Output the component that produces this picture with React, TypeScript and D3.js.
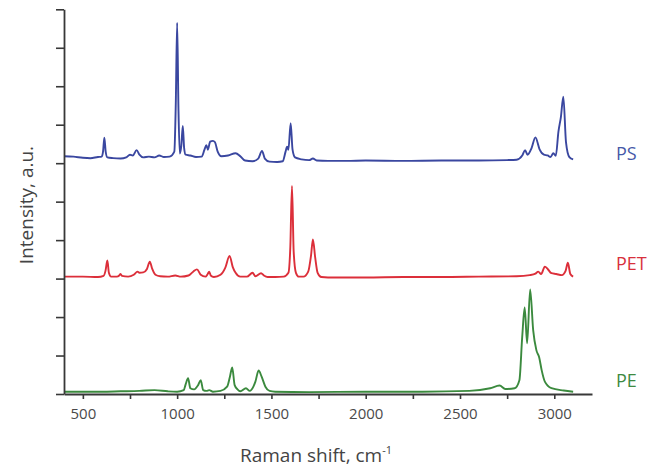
import * as d3 from 'd3';
import { useEffect, useRef } from 'react';

// Raman shift (cm-1), intensity above the spectrum's own baseline
const psSpectrum: [number, number][] = [
  [400, 0.18], [450, 0.17], [500, 0.14], [540, 0.13], [580, 0.16], [600, 0.17],
  [607, 0.3], [614, 0.66], [621, 0.3], [630, 0.15], [660, 0.13], [700, 0.12],
  [730, 0.15], [750, 0.22], [765, 0.2], [785, 0.34], [800, 0.22], [820, 0.15],
  [850, 0.17], [880, 0.15], [905, 0.2], [930, 0.16], [960, 0.17], [985, 0.3],
  [993, 1.6], [1000, 3.65], [1007, 1.4], [1014, 0.25], [1022, 0.45], [1030, 0.97],
  [1037, 0.4], [1045, 0.22], [1070, 0.2], [1100, 0.16], [1130, 0.17], [1145, 0.35],
  [1155, 0.47], [1163, 0.35], [1175, 0.56], [1190, 0.58], [1200, 0.55], [1215, 0.3],
  [1235, 0.18], [1270, 0.2], [1310, 0.26], [1335, 0.18], [1360, 0.07], [1400, 0.05],
  [1430, 0.12], [1450, 0.32], [1465, 0.12], [1490, 0.04], [1530, 0.03], [1560, 0.05],
  [1575, 0.3], [1583, 0.43], [1590, 0.35], [1602, 1.04], [1612, 0.35], [1625, 0.15],
  [1660, 0.1], [1700, 0.08], [1720, 0.12], [1740, 0.07], [1800, 0.06], [1900, 0.06],
  [2000, 0.07], [2200, 0.06], [2400, 0.07], [2600, 0.07], [2750, 0.08], [2800, 0.09],
  [2830, 0.2], [2845, 0.34], [2858, 0.22], [2880, 0.4], [2900, 0.67], [2922, 0.36],
  [2945, 0.22], [2965, 0.2], [2980, 0.16], [2995, 0.26], [3008, 0.19], [3022, 0.82],
  [3035, 1.2], [3048, 1.73], [3062, 0.55], [3080, 0.16], [3100, 0.1],
];

const petSpectrum: [number, number][] = [
  [400, 0.05], [500, 0.05], [580, 0.04], [610, 0.07], [620, 0.2], [630, 0.47],
  [638, 0.15], [650, 0.05], [680, 0.05], [693, 0.08], [700, 0.12], [707, 0.07],
  [740, 0.05], [770, 0.1], [790, 0.18], [800, 0.15], [820, 0.16], [840, 0.25],
  [855, 0.44], [868, 0.25], [885, 0.1], [910, 0.06], [950, 0.05], [990, 0.08],
  [1020, 0.05], [1060, 0.08], [1085, 0.18], [1105, 0.24], [1125, 0.1], [1150, 0.05],
  [1162, 0.12], [1170, 0.18], [1178, 0.08], [1195, 0.04], [1230, 0.1], [1255, 0.28],
  [1278, 0.59], [1295, 0.3], [1310, 0.15], [1335, 0.05], [1370, 0.05], [1400, 0.15],
  [1415, 0.06], [1445, 0.14], [1460, 0.08], [1480, 0.04], [1520, 0.04], [1565, 0.05],
  [1590, 0.15], [1600, 0.8], [1609, 2.41], [1618, 0.7], [1630, 0.15], [1645, 0.05],
  [1670, 0.05], [1695, 0.18], [1710, 0.6], [1720, 1.02], [1732, 0.55], [1745, 0.15],
  [1765, 0.04], [1800, 0.03], [2000, 0.03], [2200, 0.04], [2400, 0.04], [2600, 0.05],
  [2800, 0.06], [2870, 0.09], [2900, 0.13], [2915, 0.18], [2930, 0.12], [2950, 0.31],
  [2965, 0.25], [2985, 0.14], [3010, 0.12], [3040, 0.09], [3060, 0.2], [3072, 0.41],
  [3085, 0.12], [3100, 0.05],
];

const peSpectrum: [number, number][] = [
  [400, 0.06], [500, 0.06], [600, 0.06], [700, 0.07], [800, 0.08], [880, 0.1],
  [950, 0.07], [1000, 0.06], [1035, 0.1], [1045, 0.25], [1058, 0.41], [1070, 0.15],
  [1090, 0.12], [1110, 0.22], [1125, 0.36], [1138, 0.1], [1155, 0.08], [1170, 0.1],
  [1190, 0.06], [1230, 0.08], [1265, 0.19], [1280, 0.45], [1292, 0.69], [1305, 0.23],
  [1320, 0.12], [1335, 0.07], [1365, 0.15], [1385, 0.08], [1405, 0.2], [1415, 0.32],
  [1432, 0.61], [1448, 0.45], [1468, 0.19], [1490, 0.08], [1520, 0.06], [1700, 0.05],
  [2000, 0.06], [2300, 0.06], [2550, 0.08], [2660, 0.15], [2710, 0.22], [2740, 0.13],
  [2790, 0.15], [2815, 0.36], [2830, 1.49], [2843, 2.25], [2856, 1.32], [2872, 2.72],
  [2888, 1.66], [2905, 1.14], [2920, 0.95], [2933, 0.62], [2950, 0.32], [2985, 0.15],
  [3050, 0.09], [3100, 0.06],
];

const seriesNames = ['PS', 'PET', 'PE'];
const seriesData = [psSpectrum, petSpectrum, peSpectrum];
const seriesOffsets = [6, 3, 0];
const labelLevels = [6.25, 3.4, 0.34];
const lineColors = ['#3a47a0', '#dc2f3a', '#3b8a3e'];
const labelColors = ['#4659a8', '#d8303c', '#3e8a42'];

const xTicks = [500, 750, 1000, 1250, 1500, 1750, 2000, 2250, 2500, 2750, 3000];
const yTicks = [0, 1, 2, 3, 4, 5, 6, 7, 8, 9, 10];

export default function App() {
  const svgRef = useRef<SVGSVGElement | null>(null);

  useEffect(() => {
    const width = 649;
    const height = 468;
    const font = '"Open Sans", sans-serif';

    const svg = d3.select(svgRef.current).attr('width', width).attr('height', height);
    svg.selectAll('*').remove();

    const x = d3.scaleLinear().domain([400, 3200]).range([64, 592]);
    const y = d3.scaleLinear().domain([0, 10]).range([394, 9.3]);

    const line = d3
      .line<[number, number]>()
      .x((d) => x(d[0]))
      .y((d) => y(d[1]))
      .curve(d3.curveMonotoneX);

    seriesData.forEach((spec, i) => {
      const off = seriesOffsets[i];
      svg
        .append('path')
        .datum(spec.map((d) => [d[0], d[1] + off] as [number, number]))
        .attr('d', line)
        .attr('fill', 'none')
        .attr('stroke', lineColors[i])
        .attr('stroke-width', 1.9)
        .attr('stroke-linejoin', 'round');

      svg
        .append('text')
        .attr('x', 616)
        .attr('y', y(labelLevels[i]))
        .attr('dy', '0.35em')
        .attr('fill', labelColors[i])
        .style('font-family', font)
        .style('font-size', '18px')
        .text(seriesNames[i]);
    });

    const xAxis = svg
      .append('g')
      .attr('transform', `translate(0,${y(0)})`)
      .call(
        d3
          .axisBottom(x)
          .tickValues(xTicks)
          .tickSize(5)
          .tickSizeOuter(0)
          .tickPadding(9)
          .tickFormat((d) => ((d as number) % 500 === 0 ? String(d) : ''))
      );

    const yAxis = svg
      .append('g')
      .attr('transform', `translate(${x(400)},0)`)
      .call(d3.axisLeft(y).tickValues(yTicks).tickSize(8).tickSizeOuter(0).tickFormat(() => ''));

    [xAxis, yAxis].forEach((g) => {
      g.select('.domain').attr('stroke', '#383838').attr('stroke-width', 1.8);
      g.selectAll('.tick line').attr('stroke', '#383838').attr('stroke-width', 1.6);
      g.selectAll('.tick text')
        .attr('fill', '#4a4a4a')
        .style('font-family', font)
        .style('font-size', '15px');
    });

    const xTitle = svg
      .append('text')
      .attr('x', 316)
      .attr('y', 462)
      .attr('text-anchor', 'middle')
      .attr('fill', '#444')
      .style('font-family', font)
      .style('font-size', '19px');
    xTitle.append('tspan').text('Raman shift, cm');
    xTitle.append('tspan').attr('dy', -8).style('font-size', '11px').text('-1');

    svg
      .append('text')
      .attr('transform', 'translate(33,205) rotate(-90)')
      .attr('text-anchor', 'middle')
      .attr('fill', '#444')
      .style('font-family', font)
      .style('font-size', '19px')
      .text('Intensity, a.u.');
  }, []);

  return <svg ref={svgRef} style={{ position: 'absolute', left: 0, top: 0, background: '#fff' }} />;
}
